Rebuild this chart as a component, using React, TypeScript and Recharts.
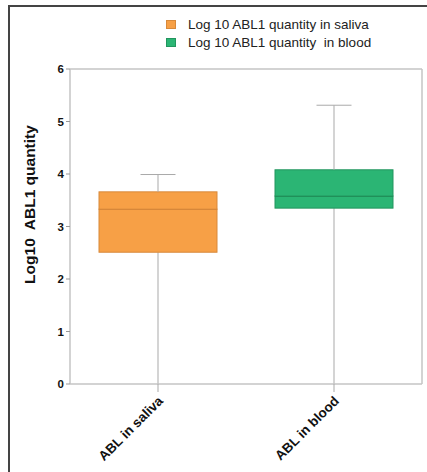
import * as React from "react";
import { Bar, CartesianGrid, ComposedChart, Label, XAxis, YAxis } from "recharts";

const categories = ["ABL in saliva", "ABL in blood"];
const legendLabels = ["Log 10 ABL1 quantity in saliva", "Log 10 ABL1 quantity  in blood"];
const minValues = [0, 0];
const q1Values = [2.51, 3.35];
const medianValues = [3.33, 3.58];
const q3Values = [3.66, 4.08];
const maxValues = [3.99, 5.31];
const yTicks = [0, 1, 2, 3, 4, 5, 6];

const fills = ["#F7A046", "#2BB574"];
const edges = ["#D8893A", "#22955E"];
const medians = ["#C97A30", "#1C7F4E"];
const whiskerColor = "#A9A9A9";
const frameColor = "#C4C4C4";
const font = "Arial, 'Liberation Sans', sans-serif";

// stacked pieces of each box: base -> lower whisker -> lower box -> upper box -> upper whisker
const data = categories.map((name, i) => ({
  name,
  idx: i,
  base: minValues[i],
  lowWhisker: q1Values[i] - minValues[i],
  boxLow: medianValues[i] - q1Values[i],
  boxHigh: q3Values[i] - medianValues[i],
  highWhisker: maxValues[i] - q3Values[i],
}));

function Whisker(props: any) {
  const { x, y, width, height, top } = props;
  const cx = x + width / 2;
  return (
    <g>
      <line x1={cx} x2={cx} y1={y} y2={y + height} stroke={whiskerColor} strokeWidth={1} />
      {top && <line x1={cx - 17.5} x2={cx + 17.5} y1={y} y2={y} stroke={whiskerColor} strokeWidth={1} />}
    </g>
  );
}

function BoxPart(props: any) {
  const { x, y, width, height, payload, lower } = props;
  const i = payload.idx;
  return (
    <g>
      <rect x={x} y={y} width={width} height={height} fill={fills[i]} stroke={edges[i]} strokeWidth={1} />
      {lower && <line x1={x} x2={x + width} y1={y} y2={y} stroke={medians[i]} strokeWidth={1.2} />}
    </g>
  );
}

function XTick(props: any) {
  const { x, y, payload } = props;
  return (
    <g transform={`translate(${x + 3},${y + 5})`}>
      <text
        transform="rotate(-45)"
        textAnchor="end"
        dy={4}
        fontFamily={font}
        fontWeight="bold"
        fontSize={13.5}
        fill="#111"
      >
        {payload.value}
      </text>
    </g>
  );
}

function YLabel(props: any) {
  const { viewBox } = props;
  const cx = 29;
  const cy = viewBox.y + viewBox.height / 2 - 22;
  return (
    <text
      x={cx}
      y={cy}
      transform={`rotate(-90, ${cx}, ${cy})`}
      textAnchor="middle"
      dominantBaseline="central"
      fontFamily={font}
      fontWeight="bold"
      fontSize={15.5}
      fill="#111"
      style={{ whiteSpace: "pre" }}
    >
      {"Log10  ABL1 quantity"}
    </text>
  );
}

export default function App() {
  return (
    <div style={{ position: "absolute", left: 0, top: 0, width: 427, height: 472, background: "#fff" }}>
      <div style={{ position: "absolute", left: 8, top: 5, right: 0, height: 2, background: "#444" }} />
      <div style={{ position: "absolute", left: 8, top: 5, bottom: 0, width: 2, background: "#444" }} />
      <div style={{ position: "absolute", left: 166, top: 15, fontFamily: font, fontSize: 13.5, color: "#222" }}>
        {legendLabels.map((label, i) => (
          <div key={label} style={{ display: "flex", alignItems: "center", height: 18.5, whiteSpace: "pre" }}>
            <span
              style={{
                display: "inline-block",
                width: 10,
                height: 9,
                background: fills[i],
                border: `1px solid ${edges[i]}`,
                boxSizing: "border-box",
                marginRight: 12,
              }}
            />
            {label}
          </div>
        ))}
      </div>
      <ComposedChart
        width={427}
        height={472}
        data={data}
        margin={{ top: 69, right: 5, left: 0, bottom: 0 }}
        barSize={118}
        style={{ position: "absolute", left: 0, top: 0 }}
      >
        <CartesianGrid
          stroke={frameColor}
          strokeWidth={1.5}
          horizontalCoordinatesGenerator={(p: any) => [p.offset.top]}
          verticalCoordinatesGenerator={(p: any) => [p.offset.left + p.offset.width]}
        />
        <XAxis
          dataKey="name"
          height={88}
          interval={0}
          tick={<XTick />}
          tickSize={8}
          tickLine={{ stroke: whiskerColor }}
          axisLine={{ stroke: frameColor, strokeWidth: 1.5 }}
        />
        <YAxis
          domain={[0, 6]}
          ticks={yTicks}
          width={70}
          tickSize={4}
          tick={{ fontFamily: font, fontWeight: "bold", fontSize: 11.5, fill: "#111" }}
          tickLine={{ stroke: "#999" }}
          axisLine={{ stroke: frameColor, strokeWidth: 1.5 }}
        >
          <Label content={<YLabel />} />
        </YAxis>
        <Bar dataKey="base" stackId="box" fill="none" isAnimationActive={false} />
        <Bar dataKey="lowWhisker" stackId="box" isAnimationActive={false} shape={<Whisker />} />
        <Bar dataKey="boxLow" stackId="box" isAnimationActive={false} shape={<BoxPart lower />} />
        <Bar dataKey="boxHigh" stackId="box" isAnimationActive={false} shape={<BoxPart />} />
        <Bar dataKey="highWhisker" stackId="box" isAnimationActive={false} shape={<Whisker top />} />
      </ComposedChart>
    </div>
  );
}
